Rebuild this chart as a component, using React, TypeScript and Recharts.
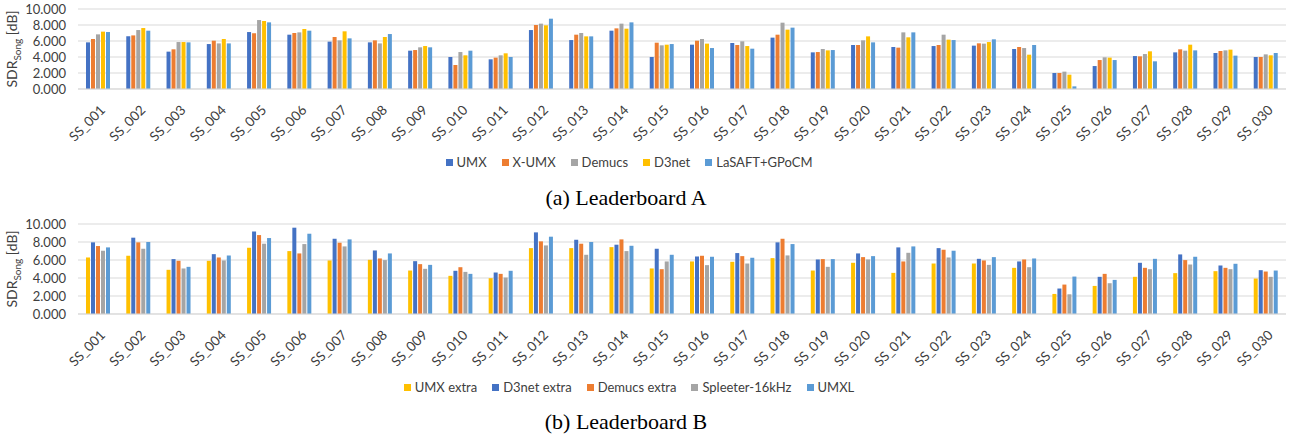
import React from 'react'
import { BarChart, Bar, XAxis, YAxis, CartesianGrid, Legend } from 'recharts'

const songs = Array.from({ length: 30 }, (_, i) => `SS_${String(i + 1).padStart(3, '0')}`)

// Leaderboard A
const umx = [5.83, 6.58, 4.67, 5.62, 7.12, 6.79, 5.92, 5.83, 4.79, 4.0, 3.71, 7.37, 6.12, 7.29, 4.0, 5.54, 5.75, 6.42, 4.58, 5.5, 5.25, 5.37, 5.42, 5.0, 2.0, 2.87, 4.12, 4.58, 4.5, 4.0]
const xumx = [6.25, 6.7, 4.96, 6.04, 6.96, 7.0, 6.5, 6.08, 4.87, 3.0, 3.92, 8.0, 6.79, 7.58, 5.79, 6.04, 5.5, 6.79, 4.62, 5.5, 5.17, 5.5, 5.71, 5.25, 2.0, 3.62, 4.08, 4.96, 4.75, 4.0]
const demucs = [6.83, 7.37, 5.87, 5.7, 8.62, 7.08, 6.08, 5.7, 5.21, 4.62, 4.21, 8.17, 7.0, 8.17, 5.46, 6.25, 5.96, 8.29, 5.0, 6.08, 7.08, 6.79, 5.67, 5.12, 2.17, 3.96, 4.37, 4.79, 4.83, 4.33]
const d3net = [7.17, 7.62, 5.87, 6.25, 8.5, 7.5, 7.21, 6.5, 5.37, 4.21, 4.46, 7.96, 6.58, 7.54, 5.54, 5.67, 5.37, 7.42, 4.83, 6.58, 6.46, 6.17, 5.87, 4.29, 1.79, 3.92, 4.71, 5.54, 4.92, 4.21]
const lasaft = [7.12, 7.29, 5.83, 5.7, 8.33, 7.29, 6.33, 6.87, 5.21, 4.79, 4.0, 8.79, 6.58, 8.33, 5.62, 5.12, 5.04, 7.67, 4.87, 5.83, 7.08, 6.12, 6.21, 5.5, 0.33, 3.62, 3.46, 4.83, 4.17, 4.5]

// Leaderboard B
const umxExtra = [6.28, 6.47, 4.91, 5.91, 7.36, 6.99, 5.95, 6.02, 4.83, 4.24, 3.98, 7.32, 7.32, 7.43, 5.06, 5.84, 5.8, 6.21, 4.83, 5.69, 4.57, 5.61, 5.61, 5.13, 2.23, 3.12, 4.13, 4.54, 4.76, 3.94]
const d3netExtra = [7.96, 8.48, 6.1, 6.65, 9.18, 9.59, 8.36, 7.06, 5.87, 4.8, 4.61, 9.07, 8.25, 7.7, 7.25, 6.39, 6.77, 7.96, 6.06, 6.73, 7.4, 7.32, 6.13, 5.84, 2.83, 4.13, 5.69, 6.62, 5.39, 4.87]
const demucsExtra = [7.55, 7.96, 5.91, 6.28, 8.77, 6.73, 7.92, 6.17, 5.54, 5.2, 4.46, 8.07, 7.81, 8.29, 4.98, 6.47, 6.43, 8.36, 6.1, 6.32, 5.84, 7.14, 5.95, 6.06, 3.27, 4.46, 5.13, 5.99, 5.13, 4.72]
const spleeter = [7.03, 7.25, 5.06, 5.95, 7.81, 7.77, 7.51, 5.99, 5.02, 4.68, 4.05, 7.62, 6.58, 6.99, 5.84, 5.43, 5.61, 6.51, 5.24, 6.06, 6.8, 6.28, 5.46, 5.2, 2.19, 3.42, 4.98, 5.5, 4.98, 4.13]
const umxl = [7.4, 8.0, 5.24, 6.5, 8.44, 8.92, 8.29, 6.73, 5.46, 4.46, 4.8, 8.59, 8.0, 7.58, 6.58, 6.36, 6.25, 7.77, 6.1, 6.43, 7.51, 7.03, 6.32, 6.17, 4.16, 3.79, 6.13, 6.36, 5.58, 4.83]

const yTicks = [0, 2, 4, 6, 8, 10]

const seriesA = [
  { key: 'umx', name: 'UMX', values: umx, color: '#4472C4' },
  { key: 'xumx', name: 'X-UMX', values: xumx, color: '#ED7D31' },
  { key: 'demucs', name: 'Demucs', values: demucs, color: '#A5A5A5' },
  { key: 'd3net', name: 'D3net', values: d3net, color: '#FFC000' },
  { key: 'lasaft', name: 'LaSAFT+GPoCM', values: lasaft, color: '#5B9BD5' },
]

const seriesB = [
  { key: 'umxExtra', name: 'UMX extra', values: umxExtra, color: '#FFC000' },
  { key: 'd3netExtra', name: 'D3net extra', values: d3netExtra, color: '#4472C4' },
  { key: 'demucsExtra', name: 'Demucs extra', values: demucsExtra, color: '#ED7D31' },
  { key: 'spleeter', name: 'Spleeter-16kHz', values: spleeter, color: '#A5A5A5' },
  { key: 'umxl', name: 'UMXL', values: umxl, color: '#5B9BD5' },
]

const FONT = 'Lato, "Open Sans", sans-serif'
const TEXT = '#404040'

type Series = typeof seriesA

function buildRows(series: Series) {
  return songs.map((song, i) => {
    const row: Record<string, any> = { song }
    series.forEach(s => { row[s.key] = s.values[i] })
    return row
  })
}

function AngleTick({ x, y, payload }: any) {
  const px = x + 8
  const py = y + 22
  return (
    <text x={px} y={py} transform={`rotate(-45 ${px} ${py})`} textAnchor="end"
      fontSize={13.5} fill={TEXT} fontFamily={FONT}>
      {payload.value}
    </text>
  )
}

function YLabel({ viewBox }: any) {
  const cx = viewBox.x + 17
  const cy = viewBox.y + viewBox.height / 2
  return (
    <text x={cx} y={cy} transform={`rotate(-90 ${cx} ${cy})`} textAnchor="middle"
      fontSize={14} fill={TEXT} fontFamily={FONT}>
      <tspan>SDR</tspan>
      <tspan fontSize={10} dy={4}>Song</tspan>
      <tspan dy={-4}> [dB]</tspan>
    </text>
  )
}

function LegendRow({ series }: { series: Series }) {
  return (
    <div style={{ display: 'flex', justifyContent: 'center', height: 20, alignItems: 'center',
      fontFamily: FONT, fontSize: 13, color: TEXT, gap: 15 }}>
      {series.map(s => (
        <div key={s.key} style={{ display: 'flex', alignItems: 'center' }}>
          <span style={{ width: 7, height: 7, background: s.color, marginRight: 4, display: 'inline-block' }} />
          {s.name}
        </div>
      ))}
    </div>
  )
}

function Board({ series, top, plotH }: { series: Series; top: number; plotH: number }) {
  const rows = buildRows(series)
  const xAxisH = 63
  const height = 9 + plotH + xAxisH + 20
  return (
    <div style={{ position: 'absolute', left: 0, top }}>
      <BarChart width={1295} height={height} data={rows}
        margin={{ top: 9, right: 9, left: 0, bottom: 0 }} barSize={4} barGap={1}>
        <CartesianGrid vertical={false} stroke="#D9D9D9" />
        <XAxis dataKey="song" interval={0} tick={<AngleTick />} tickLine={false}
          tickSize={0} tickMargin={0} axisLine={{ stroke: '#D9D9D9' }} height={xAxisH} />
        <YAxis width={78} domain={[0, 10]} ticks={yTicks} interval={0} axisLine={false} tickLine={false}
          tickSize={0} tickMargin={12} tickFormatter={(v: number) => v.toFixed(3)}
          tick={{ fontSize: 13, fill: TEXT, fontFamily: FONT }} label={<YLabel />} />
        <Legend verticalAlign="bottom" wrapperStyle={{ left: 0, width: 1258 }}
          content={() => <LegendRow series={series} />} />
        {series.map(s => (
          <Bar key={s.key} dataKey={s.key} name={s.name} fill={s.color} isAnimationActive={false} />
        ))}
      </BarChart>
    </div>
  )
}

const captionStyle: React.CSSProperties = {
  position: 'absolute', left: 0, width: 1252, textAlign: 'center',
  fontFamily: '"Liberation Serif", "Times New Roman", serif', fontSize: 22, color: '#000',
  lineHeight: '24px',
}

export default function App() {
  return (
    <div style={{ position: 'absolute', left: 0, top: 0, width: 1295, height: 441, background: '#fff', overflow: 'hidden' }}>
      <Board series={seriesA} top={0} plotH={80} />
      <div style={{ ...captionStyle, top: 186 }}>(a) Leaderboard A</div>
      <Board series={seriesB} top={215} plotH={90} />
      <div style={{ ...captionStyle, top: 410 }}>(b) Leaderboard B</div>
    </div>
  )
}
